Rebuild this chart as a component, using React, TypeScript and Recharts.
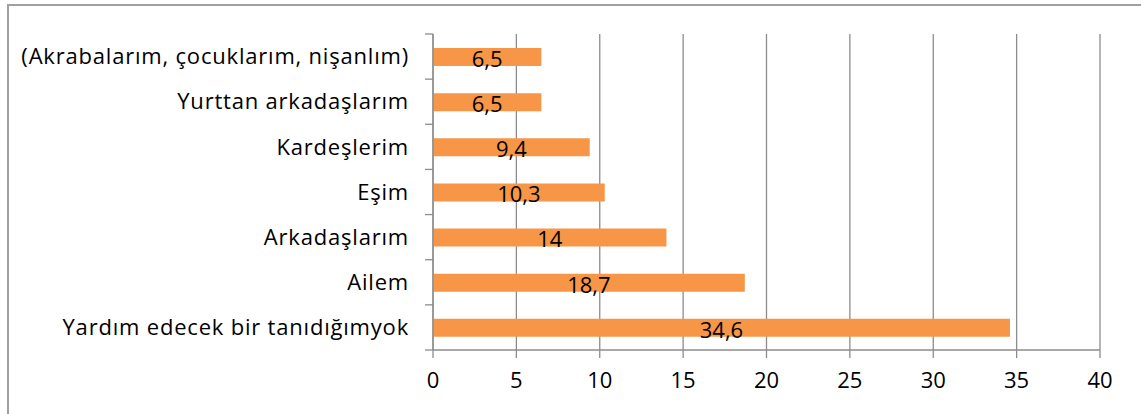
import React from "react";
import { BarChart, Bar, XAxis, YAxis, CartesianGrid, LabelList } from "recharts";

const categories = [
  "(Akrabalarım, çocuklarım, nişanlım)",
  "Yurttan arkadaşlarım",
  "Kardeşlerim",
  "Eşim",
  "Arkadaşlarım",
  "Ailem",
  "Yardım edecek bir tanıdığımyok",
];
const values = [6.5, 6.5, 9.4, 10.3, 14, 18.7, 34.6];
const xTicks = [0, 5, 10, 15, 20, 25, 30, 35, 40];

const data = categories.map((name, i) => ({ name, value: values[i] }));

const W = 1141;
const H = 414;
const margin = { top: 34, right: 41, bottom: 24, left: 8 };
const yAxisWidth = 425;
const xAxisHeight = 40;
const plotH = H - margin.top - margin.bottom - xAxisHeight;
const band = plotH / categories.length;
const axisX = margin.left + yAxisWidth;
const font = "'Open Sans', sans-serif";
const gray = "#8c8c8c";

// category label plus the little tick marks sitting on the band edges
const CatTick = (props: any) => {
  const { y, payload, index } = props;
  return (
    <g>
      <text
        x={axisX - 24}
        y={y}
        dy="0.35em"
        textAnchor="end"
        fontSize={22}
        letterSpacing={0.8}
        fill="#000"
        fontFamily={font}
      >
        {payload.value}
      </text>
      <line x1={axisX - 8} x2={axisX} y1={y - band / 2} y2={y - band / 2} stroke={gray} strokeWidth={1.3} />
      {index === categories.length - 1 && (
        <line x1={axisX - 8} x2={axisX} y1={y + band / 2} y2={y + band / 2} stroke={gray} strokeWidth={1.3} />
      )}
    </g>
  );
};

const fmt = (v: any) => String(v).replace(".", ",");

export default function App() {
  return (
    <div style={{ position: "absolute", left: 0, top: 0, width: W, height: H, overflow: "hidden", background: "#fff" }}>
      <div
        style={{
          position: "absolute",
          left: 7,
          top: 4,
          width: W + 20,
          height: H + 20,
          border: "2px solid #a0a0a0",
        }}
      />
      <div style={{ position: "absolute", left: 0, top: 0 }}>
        <BarChart width={W} height={H} data={data} layout="vertical" margin={margin} barSize={18}>
          <CartesianGrid horizontal={false} stroke={gray} strokeWidth={1.3} strokeDasharray="" />
          <XAxis
            type="number"
            domain={[0, 40]}
            ticks={xTicks}
            height={xAxisHeight}
            stroke={gray}
            strokeWidth={1.3}
            tickSize={8}
            tickMargin={14}
            tick={{ fill: "#000", fontSize: 22, fontFamily: font }}
            interval={0}
          />
          <YAxis
            type="category"
            dataKey="name"
            width={yAxisWidth}
            stroke={gray}
            strokeWidth={1.3}
            tickLine={false}
            tick={<CatTick />}
            interval={0}
          />
          <Bar dataKey="value" fill="#F79646" isAnimationActive={false}>
            <LabelList
              dataKey="value"
              position="center"
              formatter={fmt}
              fill="#000"
              fontSize={22}
              fontFamily={font}
              dy={2}
            />
          </Bar>
        </BarChart>
      </div>
    </div>
  );
}
